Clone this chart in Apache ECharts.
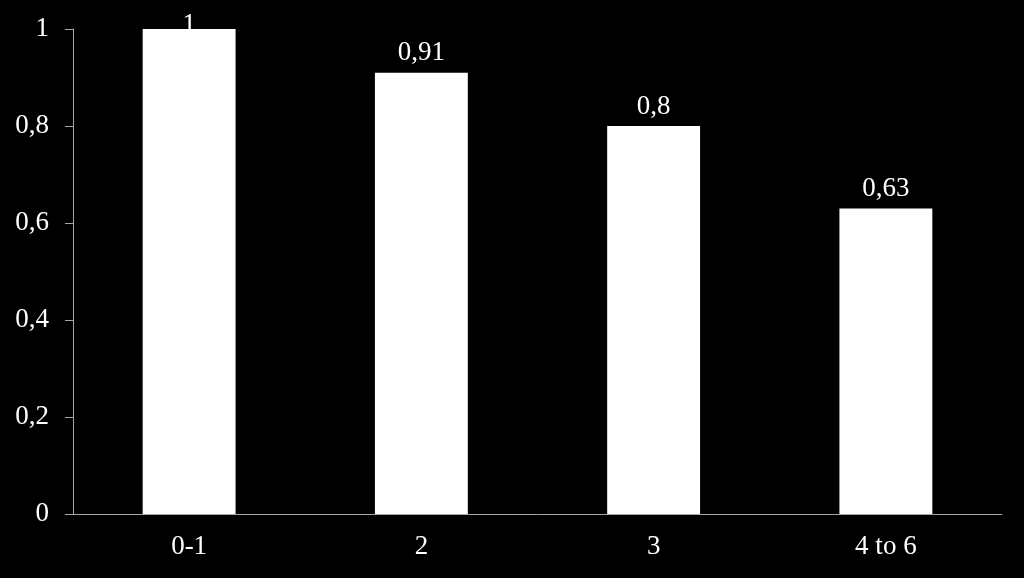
<!DOCTYPE html>
<html><head><meta charset="utf-8">
<script src="https://cdn.jsdelivr.net/npm/echarts@6/dist/echarts.min.js"></script>
<style>html,body{margin:0;padding:0;background:#000;}#c{width:1024px;height:578px;}</style>
</head><body><div id="c"></div>
<script>
const categories = ['0-1', '2', '3', '4 to 6'];
const values = [1, 0.91, 0.8, 0.63];
const yTicks = [0, 0.2, 0.4, 0.6, 0.8, 1];

const fmt = v => String(v).replace('.', ',');
const chart = echarts.init(document.getElementById('c'));
const font = '"Liberation Serif", "Times New Roman", serif';
chart.setOption({
  backgroundColor: '#000',
  animation: false,
  grid: { left: 73, right: 22, top: 29, bottom: 64 },
  xAxis: {
    type: 'category', data: categories,
    axisLine: { lineStyle: { color: '#a6a6a6', width: 1 } },
    axisTick: { length: 9, lineStyle: { color: '#a6a6a6' } },
    axisLabel: { color: '#fff', fontFamily: font, fontSize: 27, margin: 19 }
  },
  yAxis: {
    type: 'value', min: yTicks[0], max: yTicks[yTicks.length - 1], interval: 0.2,
    splitLine: { show: false },
    axisLine: { show: true, lineStyle: { color: '#a6a6a6', width: 1 } },
    axisTick: { show: true, length: 8, lineStyle: { color: '#a6a6a6' } },
    axisLabel: { color: '#fff', fontFamily: font, fontSize: 27, margin: 24, formatter: v => fmt(+v.toFixed(1)) }
  },
  series: [{
    type: 'bar', barWidth: '40%',
    data: values.map((v, i) => i === 0 ? { value: v, label: { distance: -9 } } : v),
    itemStyle: { color: '#fff' },
    label: { show: true, position: 'top', distance: 6, color: '#fff', fontFamily: font, fontSize: 27, formatter: p => fmt(p.value) }
  }]
});
</script></body></html>
